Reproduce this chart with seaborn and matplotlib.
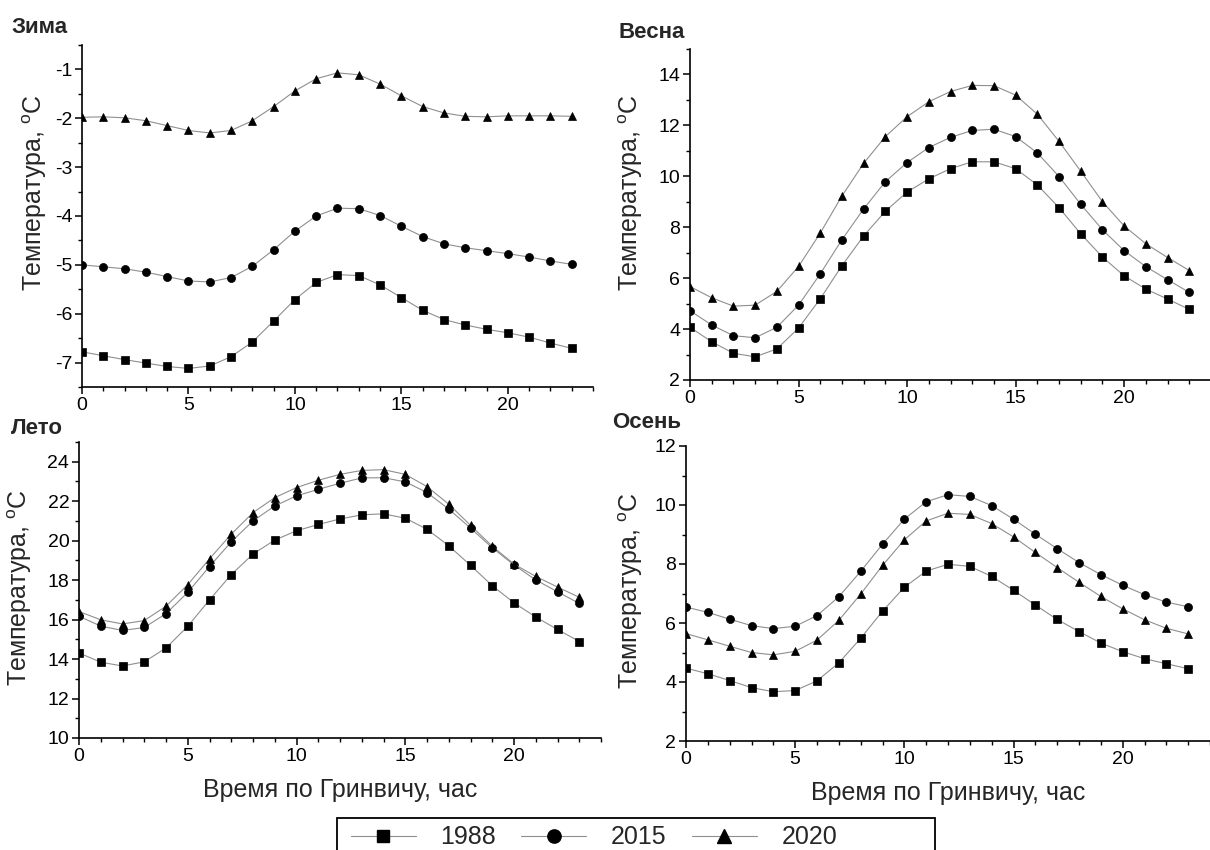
import numpy as np
import pandas as pd
import matplotlib
matplotlib.use("Agg")
import matplotlib.pyplot as plt
from matplotlib.ticker import MultipleLocator
from matplotlib.lines import Line2D
from matplotlib.patches import Rectangle
import seaborn as sns

# ---------------- data ----------------
hours = list(range(24))
years = ["1988", "2015", "2020"]

winter_1988 = [-6.78, -6.86, -6.94, -7.01, -7.08, -7.12, -7.07, -6.88, -6.58, -6.15, -5.71, -5.36,
               -5.20, -5.22, -5.41, -5.67, -5.93, -6.12, -6.23, -6.32, -6.39, -6.48, -6.60, -6.71]
winter_2015 = [-5.00, -5.04, -5.08, -5.15, -5.24, -5.33, -5.35, -5.26, -5.03, -4.69, -4.31, -4.00,
               -3.84, -3.85, -3.99, -4.21, -4.42, -4.57, -4.65, -4.71, -4.77, -4.84, -4.92, -4.99]
winter_2020 = [-1.98, -1.97, -1.99, -2.05, -2.15, -2.25, -2.30, -2.25, -2.05, -1.76, -1.44, -1.19,
               -1.07, -1.11, -1.30, -1.54, -1.76, -1.89, -1.96, -1.97, -1.95, -1.95, -1.95, -1.96]

spring_1988 = [4.07, 3.50, 3.05, 2.91, 3.22, 4.04, 5.19, 6.49, 7.66, 8.63, 9.38, 9.90,
               10.30, 10.57, 10.57, 10.30, 9.66, 8.77, 7.74, 6.83, 6.09, 5.57, 5.18, 4.77]
spring_2015 = [4.72, 4.16, 3.74, 3.66, 4.07, 4.94, 6.17, 7.51, 8.72, 9.79, 10.54, 11.13,
               11.53, 11.80, 11.85, 11.56, 10.92, 9.99, 8.90, 7.90, 7.08, 6.45, 5.94, 5.44]
spring_2020 = [5.67, 5.23, 4.90, 4.94, 5.48, 6.46, 7.77, 9.23, 10.51, 11.56, 12.34, 12.93,
               13.33, 13.57, 13.56, 13.19, 12.44, 11.37, 10.20, 9.00, 8.05, 7.35, 6.81, 6.30]

summer_1988 = [14.31, 13.84, 13.65, 13.86, 14.56, 15.66, 17.00, 18.28, 19.32, 20.03, 20.50, 20.82,
               21.10, 21.31, 21.36, 21.14, 20.58, 19.74, 18.75, 17.72, 16.85, 16.13, 15.50, 14.89]
summer_2015 = [16.17, 15.67, 15.45, 15.60, 16.30, 17.38, 18.69, 19.94, 21.00, 21.76, 22.27, 22.60,
               22.91, 23.18, 23.19, 22.98, 22.44, 21.60, 20.64, 19.64, 18.77, 18.01, 17.41, 16.82]
summer_2020 = [16.41, 15.99, 15.78, 15.95, 16.68, 17.77, 19.08, 20.33, 21.42, 22.18, 22.69, 23.06,
               23.36, 23.56, 23.60, 23.36, 22.74, 21.85, 20.78, 19.72, 18.81, 18.19, 17.65, 17.13]

autumn_1988 = [4.47, 4.28, 4.05, 3.81, 3.67, 3.71, 4.04, 4.65, 5.48, 6.40, 7.21, 7.76,
               7.99, 7.92, 7.58, 7.11, 6.61, 6.12, 5.71, 5.32, 5.03, 4.79, 4.62, 4.45]
autumn_2015 = [6.54, 6.36, 6.13, 5.91, 5.81, 5.89, 6.25, 6.89, 7.75, 8.67, 9.52, 10.11,
               10.35, 10.29, 9.98, 9.52, 9.01, 8.52, 8.05, 7.64, 7.28, 6.96, 6.71, 6.55]
autumn_2020 = [5.64, 5.43, 5.21, 5.00, 4.92, 5.04, 5.42, 6.09, 6.98, 7.95, 8.82, 9.46,
               9.72, 9.68, 9.37, 8.92, 8.39, 7.88, 7.38, 6.90, 6.48, 6.11, 5.82, 5.63]

season_titles = ["Зима", "Весна", "Лето", "Осень"]
xlabel_text = "Время по Гринвичу, час"
ylabel_text = r"Температура, $^{\mathrm{o}}$C"

# ---------------- style ----------------
sns.set_style("ticks")
plt.rcParams["font.family"] = ["Liberation Sans", "DejaVu Sans"]
plt.rcParams["mathtext.fontset"] = "custom"
plt.rcParams["mathtext.rm"] = "Liberation Sans"
plt.rcParams["mathtext.it"] = "Liberation Sans:italic"
plt.rcParams["axes.unicode_minus"] = False

line_gray = "#8f8f8f"
markers = {"1988": "s", "2015": "o", "2020": "^"}
msizes = {"1988": 5.4, "2015": 5.8, "2020": 6.4}

fig = plt.figure(figsize=(12.1, 8.5), dpi=100)
W, H = 1210.0, 850.0

def px_axes(l, t, r, b):
    return fig.add_axes([l / W, 1 - b / H, (r - l) / W, (b - t) / H])

# ylab: pixel x of the label's right edge (anchor), axes-fraction y of its centre
panels = [
    dict(box=(82, 45, 593, 387), data=[winter_1988, winter_2015, winter_2020],
         ylim=(-7.5, -0.5), major=1, minor=0.5, title_xy=(11, 33),
         ylab=(49, 0.57), xlabel=False),
    dict(box=(690, 49, 1211, 380), data=[spring_1988, spring_2015, spring_2020],
         ylim=(2, 15), major=2, minor=1, title_xy=(618, 38),
         ylab=(645, 0.566), xlabel=False),
    dict(box=(79, 442, 601, 738), data=[summer_1988, summer_2015, summer_2020],
         ylim=(10, 25), major=2, minor=1, title_xy=(11, 434),
         ylab=(34, 0.509), xlabel=True),
    dict(box=(686, 446, 1210, 741), data=[autumn_1988, autumn_2015, autumn_2020],
         ylim=(2, 12), major=2, minor=1, title_xy=(612, 428),
         ylab=(645, 0.509), xlabel=True),
]

for p, title in zip(panels, season_titles):
    ax = px_axes(*p["box"])
    for yr, vals in zip(years, p["data"]):
        df = pd.DataFrame({"hour": hours, "temp": vals})
        sns.lineplot(data=df, x="hour", y="temp", ax=ax, color=line_gray,
                     linewidth=0.8, marker=markers[yr], markersize=msizes[yr],
                     markerfacecolor="black", markeredgecolor="black",
                     markeredgewidth=0.5, legend=False, zorder=3)
    ax.set_xlim(0, 24)
    ax.set_ylim(*p["ylim"])
    ax.xaxis.set_major_locator(MultipleLocator(5))
    ax.xaxis.set_minor_locator(MultipleLocator(1))
    ax.yaxis.set_major_locator(MultipleLocator(p["major"]))
    ax.yaxis.set_minor_locator(MultipleLocator(p["minor"]))
    sns.despine(ax=ax)
    for s in ("left", "bottom"):
        ax.spines[s].set_linewidth(1.2)
        ax.spines[s].set_color("black")
    ax.tick_params(which="major", direction="out", length=5, width=1.1,
                   labelsize=14, colors="black", pad=2)
    ax.tick_params(which="minor", direction="out", length=3, width=1.0, colors="black")
    ax.set_ylabel(ylabel_text, fontsize=18)
    l, t, r, b = p["box"]
    ax.yaxis.set_label_coords((p["ylab"][0] - l) / (r - l), p["ylab"][1])
    if p["xlabel"]:
        ax.set_xlabel(xlabel_text, fontsize=18)
        ax.xaxis.set_label_coords(0.5, -0.135)
    else:
        ax.set_xlabel("")
    ax.set_facecolor("white")
    fig.text(p["title_xy"][0] / W, 1 - p["title_xy"][1] / H, title,
             fontsize=16, fontweight="bold", ha="left", va="baseline")

handles = [Line2D([], [], color=line_gray, linewidth=0.8, marker=markers[y],
                  markersize=msizes[y] * 1.65, markerfacecolor="black",
                  markeredgecolor="black") for y in years]
leg = fig.legend(handles, years, loc="upper left",
                 bbox_to_anchor=(343 / W, 1 - 818 / H), ncol=3, fontsize=18,
                 frameon=False,
                 handlelength=2.6, handletextpad=1.0, columnspacing=1.0,
                 borderpad=0.3, borderaxespad=0)
# legend frame (Origin-style box, wider than its entries)
fig.add_artist(Rectangle((337 / W, -0.02), (935 - 337) / W, (1 - 818 / H) + 0.02,
                         transform=fig.transFigure, fill=False,
                         edgecolor="black", linewidth=1.3))

fig.savefig("out.png", dpi=100, facecolor="white")
